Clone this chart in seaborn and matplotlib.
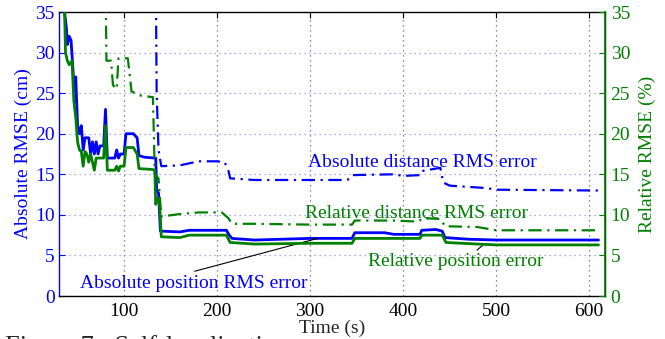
import matplotlib
matplotlib.use("Agg")
import matplotlib.pyplot as plt
import seaborn as sns
import numpy as np

sns.set_style("white")
plt.rcParams['font.family'] = ['Liberation Serif', 'DejaVu Serif']
plt.rcParams['mathtext.fontset'] = 'stix'

BLUE = (0, 0, 1)
GREEN = (0, 0.5, 0)

# absolute position RMS error (cm), left axis
abs_pos_t = [36, 38, 39, 41, 43, 45, 47, 48, 50, 52, 54, 56, 58, 62, 64, 66, 68, 70, 72, 74,
             78, 80, 82, 90, 92, 94, 96, 100, 102, 110, 114, 116, 122, 134, 135, 137, 139,
             160, 170, 210, 213, 216, 240, 300, 345, 348, 380, 390, 418, 420, 435, 442, 445,
             470, 500, 610]
abs_pos_v = [35, 33, 31, 32, 31.5, 28, 24, 27, 21, 20, 21, 18, 19.5, 19.5, 17.5, 19, 17.5, 19, 17.5, 18.5,
             18.5, 23, 17, 17, 18, 17, 17.5, 17.5, 20, 20, 19.5, 17.3, 17.1, 17, 13, 12.7, 8,
             7.9, 8.1, 8.1, 7.5, 7.1, 6.9, 7.1, 7.1, 7.8, 7.8, 7.6, 7.6, 8.1, 8.2, 8.0, 7.2,
             7.0, 6.9, 6.9]

# relative position error (%), right axis
rel_pos_t = [36, 37, 39, 41, 44, 46, 48, 50, 52, 54, 56, 58, 60, 62, 64, 66, 68, 70, 74, 78,
             80, 82, 90, 92, 94, 96, 100, 102, 110, 114, 116, 130, 133, 134, 136, 138, 140,
             160, 170, 210, 214, 240, 300, 345, 348, 390, 418, 420, 442, 446, 480, 500, 610]
rel_pos_v = [35, 30, 29, 28.5, 29, 24, 22, 19, 18, 17.8, 16, 17.8, 17.5, 16.5, 17.5, 16.5, 15.5, 17, 17, 17,
             21, 15.5, 15.5, 16, 15.4, 16, 16, 18.3, 18.3, 17.5, 15.7, 15.6, 15.5, 11.3, 12, 11.7, 7.3,
             7.2, 7.5, 7.5, 6.6, 6.4, 6.5, 6.5, 7.1, 7.1, 7.1, 7.5, 7.5, 6.6, 6.4, 6.3, 6.3]

# absolute distance RMS error (cm), left axis
abs_dist_t = [134, 135, 137, 140, 160, 180, 200, 208, 212, 214, 240, 300, 340, 345, 390, 400,
              418, 420, 440, 443, 450, 490, 500, 610]
abs_dist_v = [40, 25, 18, 16, 16.1, 16.6, 16.6, 16.5, 15.5, 14.5, 14.3, 14.3, 14.3, 14.9, 15.0, 14.8,
              14.9, 15.4, 15.8, 14.0, 13.6, 13.3, 13.1, 13.0]

# relative distance RMS error (%), right axis
rel_dist_t = [80, 81, 86, 88, 92, 94, 104, 108, 118, 131, 133, 137, 140, 160, 180, 205, 212, 216,
              240, 300, 345, 348, 390, 410, 418, 420, 440, 445, 480, 500, 610]
rel_dist_v = [40, 29, 29, 26, 25.5, 29.3, 29.3, 25.2, 24.7, 24.5, 15, 14.5, 9.8, 10.1, 10.3, 10.3, 9.6, 8.9,
              8.9, 8.8, 8.8, 9.3, 9.3, 9.2, 9.3, 9.6, 9.5, 8.6, 8.5, 8.1, 8.1]

fig = plt.figure(figsize=(6.65, 3.39), dpi=100)
ax = fig.add_axes([0.0887, 0.1268, 0.8211, 0.8378])
ax2 = ax.twinx()

sns.lineplot(x=abs_pos_t, y=abs_pos_v, ax=ax, color=BLUE, lw=2.0, sort=False)
sns.lineplot(x=abs_dist_t, y=abs_dist_v, ax=ax, color=BLUE, lw=1.6, sort=False,
             linestyle=(0, (6, 2.5, 1, 2.5)))
sns.lineplot(x=rel_pos_t, y=rel_pos_v, ax=ax2, color=GREEN, lw=2.0, sort=False)
sns.lineplot(x=rel_dist_t, y=rel_dist_v, ax=ax2, color=GREEN, lw=1.6, sort=False,
             linestyle=(0, (6, 2.5, 1, 2.5)))

for a in (ax, ax2):
    a.set_xlim(30, 617)
    a.set_ylim(0, 35)
    a.set_yticks(np.arange(0, 36, 5))
    a.set_xticks(np.arange(100, 601, 100))

ax.grid(True, axis='y', color=(0.55, 0.55, 1), linestyle=(0, (1, 3)), lw=0.9)
ax.grid(True, axis='x', color='0.4', linestyle=(0, (1, 3)), lw=0.9)
ax.set_axisbelow(True)

ax.tick_params(axis='x', direction='in', length=4, top=True, colors='black', labelsize=14, pad=5)
ax.tick_params(axis='y', direction='in', length=4, colors=BLUE, labelsize=14, pad=3)
ax2.tick_params(axis='y', direction='in', length=4, colors=GREEN, labelsize=14, pad=4)

for s in ax.spines.values():
    s.set_color('black')
    s.set_linewidth(1.0)
ax.spines['left'].set_color(BLUE)
ax2.spines['left'].set_visible(False)
ax2.spines['right'].set_color(GREEN)
ax2.spines['right'].set_linewidth(1.2)
ax2.spines['top'].set_visible(False)
ax2.spines['bottom'].set_visible(False)

ax.set_xlabel('Time (s)', fontsize=14, labelpad=0)
ax.set_ylabel('Absolute RMSE (cm)', fontsize=14, color=BLUE, labelpad=2)
ax2.set_ylabel('Relative RMSE (%)', fontsize=14, color=GREEN, labelpad=6)

ax.text(298, 16.5, 'Absolute distance RMS error', color=BLUE, fontsize=14, va='center')
ax.text(294, 10.2, 'Relative distance RMS error', color=GREEN, fontsize=14, va='center')
ax.annotate('Absolute position RMS error', xy=(308, 7.1), xytext=(52.6, 1.6),
            color=BLUE, fontsize=14, va='center',
            arrowprops=dict(arrowstyle='-', color='black', lw=0.8, shrinkA=0, shrinkB=0,
                            relpos=(0.45, 1.0)))
ax.annotate('Relative position error', xy=(486, 6.3), xytext=(362, 4.2),
            color=GREEN, fontsize=14, va='center',
            arrowprops=dict(arrowstyle='-', color='black', lw=0.8, shrinkA=0, shrinkB=0,
                            relpos=(0.6, 1.0)))

# figure caption, cut off by the bottom edge as in the original
fig.text(0.008, 0.012, 'Figure 7:  Self-localization', fontsize=19, va='top', ha='left')

fig.savefig('out.png', dpi=100)
